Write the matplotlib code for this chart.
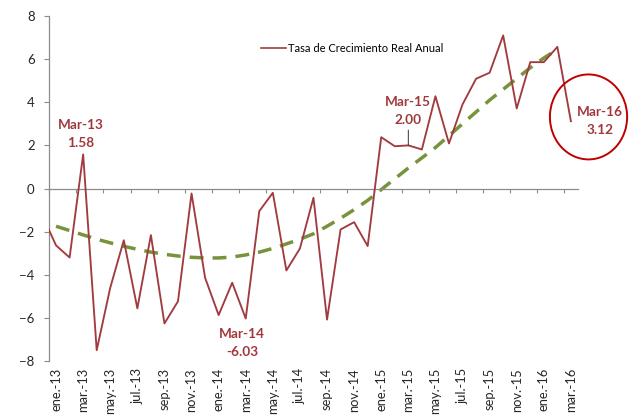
import matplotlib
matplotlib.use("Agg")
import matplotlib.pyplot as plt
import numpy as np
from matplotlib.lines import Line2D
from matplotlib.patches import Ellipse

plt.rcParams["font.family"] = ["Lato", "DejaVu Sans"]

# meses (dic-12 solo sirve para el tramo recortado a la izquierda)
MESES = ["ene", "feb", "mar", "abr", "may", "jun", "jul", "ago", "sep", "oct", "nov", "dic"]
months = ["dic.-12"] + [f"{m}.-{y}" for y in ("13", "14", "15") for m in MESES] + ["ene.-16", "feb.-16", "mar.-16"]

tasa = [
    -1.27,
    -2.64, -3.20, 1.58, -7.50, -4.60, -2.40, -5.56, -2.16, -6.26, -5.23, -0.23, -4.14,
    -5.87, -4.37, -6.03, -1.05, -0.20, -3.80, -2.78, -0.43, -6.08, -1.90, -1.56, -2.67,
    2.38, 1.96, 2.00, 1.81, 4.28, 2.09, 3.90, 5.09, 5.37, 7.10, 3.71, 5.86,
    5.86, 6.57, 3.12,
]

# tendencia (ene-13 .. feb-16)
tendencia = [
    -1.75, -1.95, -2.15, -2.35, -2.52, -2.68, -2.82, -2.95, -3.05, -3.13, -3.19, -3.22,
    -3.22, -3.18, -3.08, -2.95, -2.78, -2.57, -2.35, -2.10, -1.75, -1.38, -0.98, -0.55,
    -0.05, 0.45, 0.95, 1.42, 1.90, 2.45, 3.00, 3.55, 4.10, 4.60, 5.10, 5.60,
    6.05, 6.45,
]

etiquetas = ["Mar-13", "Mar-14", "Mar-15", "Mar-16"]

ROJO = "#A23B3F"
TEXTO_ROJO = "#A0393C"
VERDE = "#77933C"
GRIS = "#8C8C8C"

x = np.arange(len(months))
x_trend = x[1:1 + len(tendencia)]

fig = plt.figure(figsize=(6.31, 4.16), dpi=100)
ax = fig.add_axes([0.0781, 0.1322, 0.8374, 0.8293])

ax.plot(x, tasa, color=ROJO, lw=1.35, zorder=3)
ax.plot(x_trend, tendencia, color=VERDE, lw=2.5, dashes=(4, 2.6), zorder=2)

ax.set_xlim(0.5, len(months) - 0.5)
ax.set_ylim(-8, 8)
ax.set_yticks(np.arange(-8, 9, 2))
ax.tick_params(axis="y", length=3.5, width=0.8, color=GRIS, pad=7, labelsize=9.5, labelcolor="#262626")

for s in ("top", "right"):
    ax.spines[s].set_visible(False)
ax.spines["left"].set_color(GRIS)
ax.spines["left"].set_linewidth(0.9)
ax.spines["bottom"].set_position(("data", 0))
ax.spines["bottom"].set_color(GRIS)
ax.spines["bottom"].set_linewidth(0.9)
ax.set_xticks(np.arange(0.5, len(months) - 1, 2))
ax.tick_params(axis="x", length=3, width=0.8, color=GRIS, labelbottom=False)

# etiquetas de mes cada dos meses, al pie del grafico
sec = ax.secondary_xaxis("bottom")
sec.set_xticks(x[1::2], [months[i] for i in x[1::2]], rotation=90)
sec.spines["bottom"].set_visible(False)
sec.tick_params(length=0, pad=5, labelsize=9.3, labelcolor="#262626")

# leyenda
h = Line2D([], [], color=ROJO, lw=1.2)
ax.legend([h], ["Tasa de Crecimiento Real Anual"], loc="center left",
          bbox_to_anchor=(0.40, 0.907), frameon=False, fontsize=8.0,
          handlelength=2.3, handletextpad=0.15, borderpad=0, borderaxespad=0)

# anotaciones
fuente = dict(color=TEXTO_ROJO, fontsize=9.8, fontweight="bold", ha="center",
              linespacing=1.6)
i13 = months.index("mar.-13")
ax.annotate(f"{etiquetas[0]}\n{tasa[i13]:.2f}", (x[i13], tasa[i13]),
            xytext=(-2, 4), textcoords="offset points", va="bottom", **fuente)
i14 = months.index("mar.-14")
ax.annotate(f"{etiquetas[1]}\n{tasa[i14]:.2f}", (x[i14], tasa[i14]),
            xytext=(-2.5, -7), textcoords="offset points", va="top", **fuente)
i15 = months.index("mar.-15")
ax.annotate(f"{etiquetas[2]}\n{tasa[i15]:.2f}", (x[i15], tasa[i15]),
            xytext=(0, 14), textcoords="offset points", va="bottom",
            arrowprops=dict(arrowstyle="-", color="#333333", lw=0.7,
                            shrinkA=1, shrinkB=0), **fuente)
i16 = months.index("mar.-16")
ax.annotate(f"{etiquetas[3]}\n{tasa[i16]:.2f}", (x[i16], tasa[i16]),
            xytext=(21, 0), textcoords="offset points", va="center", **fuente)

circ = Ellipse((x[i16] + 1.3, tasa[i16] + 0.2), width=5.7, height=3.94,
               fill=False, ec="#C00000", lw=1.4, clip_on=False, zorder=4)
ax.add_patch(circ)

fig.savefig("out.png", dpi=100)
